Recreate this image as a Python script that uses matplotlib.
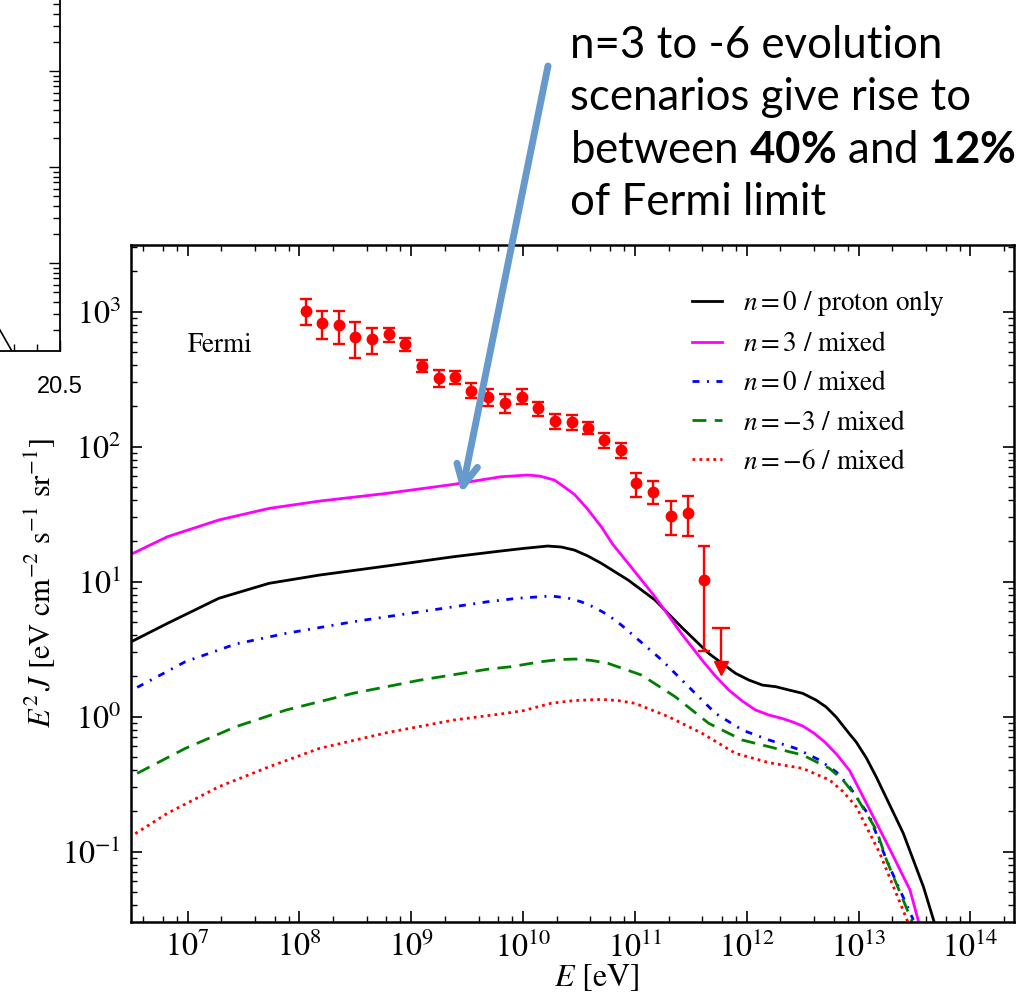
import numpy as np
import matplotlib
matplotlib.use("Agg")
import matplotlib.pyplot as plt
from matplotlib.ticker import LogLocator, MultipleLocator, FixedLocator, FormatStrFormatter, NullFormatter

plt.rcParams['font.family'] = 'STIXGeneral'
plt.rcParams['mathtext.fontset'] = 'stix'
# used only by the slide caption (custom math font for the bold numbers)
plt.rcParams['mathtext.rm'] = 'Lato'
plt.rcParams['mathtext.bf'] = 'Lato:bold'

# --- model curves: log10(E / eV) and log10(E^2 J) ---
logE_n0_proton = [6.48, 6.82, 7.28, 7.73, 8.18, 8.78, 9.38, 9.80, 10.00, 10.22, 10.34, 10.46, 10.58,
                  10.70, 10.94, 11.18, 11.42, 11.66, 11.90, 12.02, 12.14, 12.26, 12.38, 12.50, 12.62,
                  12.71, 12.80, 12.92, 12.98, 13.07, 13.16, 13.40, 13.58, 13.68]
logJ_n0_proton = [0.547, 0.690, 0.876, 0.987, 1.048, 1.115, 1.184, 1.226, 1.245, 1.263, 1.256, 1.233, 1.189,
                  1.135, 1.011, 0.863, 0.660, 0.468, 0.320, 0.270, 0.233, 0.221, 0.196, 0.172, 0.122,
                  0.071, -0.004, -0.130, -0.190, -0.307, -0.450, -0.865, -1.261, -1.532]

logE_n3_mixed = [6.48, 6.82, 7.28, 7.73, 8.18, 8.78, 9.38, 9.80, 10.04, 10.15, 10.28, 10.37, 10.46,
                 10.57, 10.70, 10.80, 10.94, 11.18, 11.42, 11.60, 11.72, 11.84, 11.96, 12.08, 12.20,
                 12.32, 12.41, 12.50, 12.60, 12.70, 12.81, 12.92, 13.10, 13.29, 13.46, 13.54]
logJ_n3_mixed = [1.196, 1.332, 1.456, 1.542, 1.596, 1.653, 1.720, 1.776, 1.789, 1.781, 1.752, 1.700, 1.645,
                 1.544, 1.406, 1.278, 1.135, 0.887, 0.610, 0.419, 0.300, 0.196, 0.115, 0.048, 0.011,
                 -0.015, -0.040, -0.070, -0.122, -0.190, -0.285, -0.400, -0.690, -1.000, -1.285, -1.530]

logE_n0_mixed = [6.55, 6.98, 7.43, 7.88, 8.48, 9.08, 9.68, 9.95, 10.25, 10.40, 10.52, 10.64, 10.76,
                 10.88, 11.00, 11.24, 11.48, 11.72, 11.96, 12.20, 12.44, 12.65, 12.80, 12.92, 13.10,
                 13.25, 13.49]
logJ_n0_mixed = [0.216, 0.406, 0.537, 0.616, 0.702, 0.776, 0.850, 0.876, 0.893, 0.878, 0.850, 0.808, 0.752,
                 0.677, 0.591, 0.419, 0.221, 0.024, -0.100, -0.174, -0.236, -0.322, -0.410, -0.520, -0.742,
                 -1.063, -1.507]

logE_nm3_mixed = [6.55, 6.98, 7.43, 7.88, 8.48, 9.08, 9.68, 9.89, 10.16, 10.31, 10.46, 10.61, 10.76,
                  11.06, 11.36, 11.66, 11.96, 12.26, 12.50, 12.74, 12.86, 12.98, 13.16, 13.25, 13.48]
logJ_nm3_mixed = [-0.421, -0.236, -0.076, 0.048, 0.172, 0.270, 0.350, 0.369, 0.406, 0.421, 0.426, 0.416, 0.394,
                  0.307, 0.147, -0.050, -0.174, -0.236, -0.285, -0.384, -0.470, -0.594, -0.841, -1.063, -1.520]

logE_nm6_mixed = [6.48, 6.82, 7.28, 7.73, 8.18, 8.78, 9.38, 9.80, 10.00, 10.25, 10.45, 10.70, 10.85,
                  11.00, 11.30, 11.60, 11.90, 12.20, 12.50, 12.74, 12.86, 12.98, 13.19, 13.44]
logJ_nm6_mixed = [-0.895, -0.717, -0.520, -0.372, -0.236, -0.120, -0.026, 0.019, 0.043, 0.098, 0.118, 0.127, 0.118,
                  0.098, -0.001, -0.124, -0.273, -0.342, -0.384, -0.470, -0.555, -0.668, -1.013, -1.520]

curve_labels = [r'$n = 0$ / proton only', r'$n = 3$ / mixed', r'$n = 0$ / mixed',
                r'$n = -3$ / mixed', r'$n = -6$ / mixed']

# --- Fermi diffuse gamma-ray points ---
fermi_E = [1.14e8, 1.58e8, 2.24e8, 3.16e8, 4.50e8, 6.31e8, 8.73e8, 1.24e9, 1.77e9, 2.47e9,
           3.44e9, 4.85e9, 6.95e9, 9.84e9, 1.36e10, 1.92e10, 2.72e10, 3.78e10, 5.27e10, 7.45e10,
           1.03e11, 1.46e11, 2.10e11, 2.97e11, 4.17e11]
fermi_J = [1014, 818, 794, 644, 622, 678, 574, 394, 324, 326,
           259, 231, 211, 234, 192, 155, 151, 138, 112, 94,
           53.3, 46.2, 30.5, 32.4, 10.3]
fermi_hi = [1230, 1014, 1014, 832, 759, 759, 632, 438, 369, 362,
            297, 265, 244, 267, 215, 174, 171, 153, 126, 107,
            64.0, 55.8, 39.4, 43.0, 18.3]
fermi_lo = [794, 622, 574, 450, 484, 597, 513, 358, 277, 290,
            228, 200, 178, 206, 168, 136, 132, 124, 98, 82,
            42.5, 37.5, 22.1, 21.8, 3.07]
# upper limit in the last bin
ul_E = 5.89e11
ul_cap = 4.55
ul_arrow = 2.29

# axis decades that carry labels
x_decades = [7, 8, 9, 10, 11, 12, 13, 14]
y_decades = [-1, 0, 1, 2, 3]

# partial neighbouring plot on the slide (left edge)
frag_x = [20.10, 20.30]
frag_y = [0.776, 0.112]

fig = plt.figure(figsize=(10.28, 9.96), dpi=100)

# --- neighbouring plot fragment ---
frag = fig.add_axes([60 / 1028 - 0.3, 1 - 351 / 996, 0.3, 0.5])
frag.plot(frag_x, frag_y, color='black', lw=1.2)
frag.set_yscale('log')
frag.set_xlim(19.161, 20.5)
frag.set_ylim(10 ** -0.9135, 10 ** 4.274)
frag.xaxis.set_major_locator(FixedLocator([20.5]))
frag.xaxis.set_minor_locator(MultipleLocator(0.1))
frag.xaxis.set_major_formatter(FormatStrFormatter('%.1f'))
frag.yaxis.set_major_locator(LogLocator(base=10, numticks=20))
frag.yaxis.set_minor_locator(LogLocator(base=10, subs=np.arange(2, 10), numticks=20))
frag.yaxis.set_minor_formatter(NullFormatter())
frag.tick_params(which='both', direction='in', left=False, right=True, labelleft=False, top=False)
frag.tick_params(which='major', length=8, width=1)
frag.tick_params(which='minor', length=5, width=1)
frag.tick_params(axis='x', labelsize=17, pad=18)
for lab in frag.get_xticklabels():
    lab.set_fontfamily('Liberation Sans')
for s in frag.spines.values():
    s.set_linewidth(1.3)

# --- main plot ---
ax = fig.add_axes([130.5 / 1028, 1 - 922 / 996, (1014 - 130.5) / 1028, (922 - 245) / 996])

ax.plot(10 ** np.array(logE_n0_proton), 10 ** np.array(logJ_n0_proton),
        color='black', lw=2.0, label=curve_labels[0])
ax.plot(10 ** np.array(logE_n3_mixed), 10 ** np.array(logJ_n3_mixed),
        color='magenta', lw=2.0, label=curve_labels[1])
ax.plot(10 ** np.array(logE_n0_mixed), 10 ** np.array(logJ_n0_mixed),
        color='blue', lw=2.0, ls=(0, (2.5, 2.7, 0.7, 2.7)), label=curve_labels[2])
ax.plot(10 ** np.array(logE_nm3_mixed), 10 ** np.array(logJ_nm3_mixed),
        color='green', lw=2.0, ls=(0, (5, 3)), label=curve_labels[3])
ax.plot(10 ** np.array(logE_nm6_mixed), 10 ** np.array(logJ_nm6_mixed),
        color='red', lw=2.0, ls=(0, (1, 1.5)), label=curve_labels[4])

fJ = np.array(fermi_J)
yerr = [fJ - np.array(fermi_lo), np.array(fermi_hi) - fJ]
ax.errorbar(fermi_E, fermi_J, yerr=yerr, fmt='o', color='red', ms=7.5,
            capsize=4.3, elinewidth=1.7, capthick=1.7)
ax.vlines(ul_E, ul_arrow, ul_cap, color='red', lw=1.7)
ax.plot([ul_E], [ul_cap], marker='_', ms=13, mew=1.7, color='red')
ax.plot([ul_E], [ul_arrow], marker='v', ms=10, color='red', ls='none')

ax.set_xscale('log')
ax.set_yscale('log')
ax.set_xlim(10 ** 6.49, 10 ** 14.39)
ax.set_ylim(10 ** -1.522, 10 ** 3.493)

ax.xaxis.set_major_locator(FixedLocator(10.0 ** np.array(x_decades)))
ax.xaxis.set_minor_locator(LogLocator(base=10, subs=(2, 4, 6, 8), numticks=20))
ax.xaxis.set_minor_formatter(NullFormatter())
ax.yaxis.set_major_locator(FixedLocator(10.0 ** np.array(y_decades)))
ax.yaxis.set_minor_locator(LogLocator(base=10, subs=np.arange(2, 10), numticks=20))
ax.yaxis.set_minor_formatter(NullFormatter())
ax.tick_params(which='both', direction='in', top=True, right=True)
ax.tick_params(which='major', length=8, width=1.2, labelsize=23, pad=7)
ax.tick_params(which='minor', length=4, width=1.0)
for s in ax.spines.values():
    s.set_linewidth(1.8)

ax.set_xlabel(r'$E$ [eV]', fontsize=23)
ax.set_ylabel(r'$E^2\,J$ [eV cm$^{-2}$ s$^{-1}$ sr$^{-1}$]', fontsize=22)
ax.xaxis.set_label_coords((597 - 130.5) / 883.5, -0.059)

ax.text(1.0e7, 565, 'Fermi', fontsize=19.5, va='center', ha='left')

ax.legend(loc='upper left', bbox_to_anchor=((692 - 130.5) / 883.5, (922 - 288) / 677),
          frameon=False, fontsize=19.5, handlelength=1.1, handletextpad=0.78,
          labelspacing=0.52, borderpad=0, borderaxespad=0)

# --- slide caption and arrow ---
caption = ['n=3 to -6 evolution',
           'scenarios give rise to',
           r'between $\mathbf{40\%}$ and $\mathbf{12\%}$',
           'of Fermi limit']
baselines = [58, 110, 163, 215]
for line, b in zip(caption, baselines):
    fig.text(570 / 1028, 1 - b / 996, line, fontsize=31.5, fontfamily='Lato',
             math_fontfamily='custom', va='baseline', ha='left')

ax.annotate('', xy=(10 ** 9.45, 45), xycoords='data',
            xytext=(548 / 1028, 1 - 66 / 996), textcoords='figure fraction',
            arrowprops=dict(arrowstyle='->,head_length=1.5,head_width=0.75',
                            color='#6699cc', lw=5, shrinkA=0, shrinkB=0),
            annotation_clip=False, zorder=10)

fig.savefig('out.png', dpi=100)
